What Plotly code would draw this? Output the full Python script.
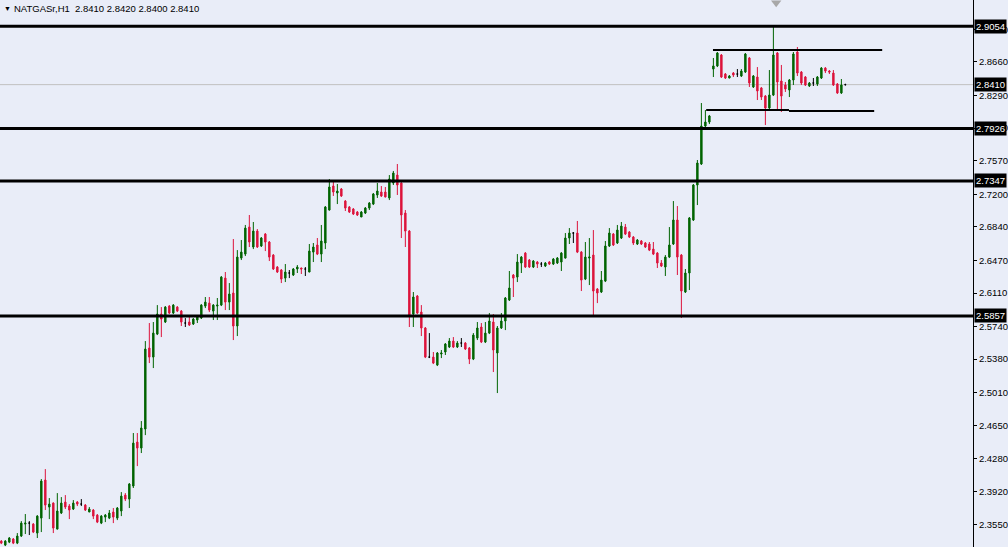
import plotly.graph_objects as go

# ---------------- data (NATGAS H1 candles) ----------------
opens = [2.3372,2.3328,2.3361,2.3395,2.3350,2.3428,2.3560,2.3571,2.3560,2.3461,
         2.3626,2.4046,2.3748,2.3792,2.3505,2.3682,2.3803,2.3759,2.3726,2.3803,
         2.3781,2.3770,2.3693,2.3715,2.3659,2.3571,2.3637,2.3626,2.3693,2.3626,
         2.3704,2.3880,2.3836,2.3980,2.4465,2.4399,2.4609,2.5503,2.5403,2.5657,
         2.5878,2.5790,2.5966,2.5889,2.5955,2.5911,2.5779,2.5790,2.5768,2.5812,
         2.5834,2.5966,2.5999,2.5911,2.5966,2.5977,2.6275,2.6010,2.6110,2.5746,
         2.6496,2.6540,2.6838,2.6618,2.6794,2.6629,2.6761,2.6673,2.6529,2.6397,
         2.6364,2.6275,2.6331,2.6309,2.6375,2.6386,2.6375,2.6342,2.6562,2.6640,
         2.6540,2.6662,2.7026,2.7291,2.7214,2.7258,2.7125,2.7059,2.7037,2.7004,
         2.6949,2.6993,2.7048,2.7092,2.7192,2.7225,2.7225,2.7159,2.7324,2.7412,
         2.7324,2.6993,2.6794,2.5878,2.6077,2.5900,2.5724,2.5403,2.5403,2.5315,
         2.5437,2.5459,2.5514,2.5580,2.5514,2.5558,2.5558,2.5503,2.5381,2.5613,
         2.5735,2.5569,2.5668,2.5790,2.5448,2.5724,2.5801,2.6033,2.6309,2.6286,
         2.6441,2.6551,2.6474,2.6397,2.6452,2.6430,2.6408,2.6452,2.6430,2.6441,
         2.6452,2.6496,2.6717,2.6772,2.6772,2.6562,2.6264,2.6496,2.6529,2.6154,
         2.6121,2.6242,2.6629,2.6761,2.6662,2.6717,2.6838,2.6783,2.6728,2.6651,
         2.6684,2.6662,2.6651,2.6595,2.6551,2.6441,2.6397,2.6507,2.6651,2.6916,
         2.6529,2.6121,2.6331,2.6916,2.7302,2.7534,2.7953,2.7997,2.8582,2.8616,
         2.8737,2.8527,2.8483,2.8538,2.8527,2.8505,2.8549,2.8704,2.8384,2.8494,
         2.8373,2.8284,2.8152,2.8295,2.8759,2.8450,2.8406,2.8351,2.8461,2.8770,
         2.8549,2.8494,2.8395,2.8428,2.8417,2.8483,2.8593,2.8560,2.8538,2.8417,
         2.8318,2.8410]
highs = [2.3383,2.3383,2.3417,2.3406,2.3461,2.3593,2.3671,2.3593,2.3571,2.3659,
         2.4057,2.4167,2.3847,2.3800,2.3902,2.3858,2.3880,2.3781,2.3825,2.3814,
         2.3836,2.3781,2.3748,2.3726,2.3671,2.3659,2.3671,2.3715,2.3737,2.3748,
         2.3913,2.3902,2.4013,2.4565,2.4565,2.4697,2.5580,2.5779,2.5790,2.5977,
         2.5955,2.5966,2.5977,2.5988,2.5966,2.5922,2.5834,2.5845,2.5834,2.5867,
         2.5988,2.6066,2.6066,2.5988,2.6055,2.6298,2.6342,2.6220,2.6706,2.6584,
         2.6695,2.6861,2.6971,2.6894,2.6816,2.6728,2.6772,2.6684,2.6540,2.6408,
         2.6375,2.6430,2.6364,2.6386,2.6419,2.6390,2.6397,2.6651,2.6662,2.6717,
         2.6861,2.7070,2.7368,2.7357,2.7313,2.7269,2.7136,2.7070,2.7048,2.7015,
         2.7015,2.7059,2.7114,2.7214,2.7324,2.7291,2.7280,2.7412,2.7457,2.7534,
         2.7335,2.7026,2.6805,2.6121,2.6088,2.5977,2.5735,2.5668,2.5459,2.5459,
         2.5481,2.5558,2.5613,2.5624,2.5580,2.5613,2.5569,2.5514,2.5668,2.5790,
         2.5779,2.5790,2.5889,2.5878,2.5746,2.5889,2.6066,2.6353,2.6320,2.6540,
         2.6518,2.6562,2.6485,2.6474,2.6463,2.6452,2.6452,2.6463,2.6496,2.6507,
         2.6562,2.6772,2.6827,2.6783,2.6905,2.6573,2.6673,2.6717,2.6805,2.6165,
         2.6353,2.6684,2.6827,2.6772,2.6861,2.6894,2.6872,2.6794,2.6739,2.6706,
         2.6695,2.6673,2.6673,2.6673,2.6562,2.6474,2.6529,2.6838,2.7125,2.7070,
         2.6540,2.6375,2.6949,2.7313,2.7578,2.8207,2.8130,2.8075,2.8704,2.8770,
         2.8748,2.8538,2.8516,2.8549,2.8582,2.8582,2.8759,2.8715,2.8516,2.8604,
         2.8384,2.8295,2.8571,2.9046,2.8770,2.8627,2.8439,2.8472,2.8770,2.8825,
         2.8560,2.8505,2.8439,2.8483,2.8505,2.8604,2.8604,2.8571,2.8571,2.8428,
         2.8472,2.8420]
lows = [2.3339,2.3317,2.3350,2.3339,2.3339,2.3417,2.3450,2.3439,2.3461,2.3406,
        2.3472,2.3715,2.3615,2.3461,2.3500,2.3671,2.3726,2.3615,2.3715,2.3759,
        2.3759,2.3704,2.3693,2.3615,2.3571,2.3560,2.3582,2.3615,2.3571,2.3604,
        2.3648,2.3814,2.3737,2.3958,2.4200,2.4344,2.4542,2.5337,2.5282,2.5646,
        2.5624,2.5779,2.5878,2.5878,2.5900,2.5746,2.5735,2.5746,2.5757,2.5779,
        2.5823,2.5944,2.5900,2.5812,2.5812,2.5966,2.5922,2.5922,2.5591,2.5635,
        2.6474,2.6518,2.6618,2.6595,2.6607,2.6618,2.6573,2.6463,2.6364,2.6331,
        2.6220,2.6231,2.6275,2.6298,2.6331,2.6320,2.6298,2.6340,2.6452,2.6529,
        2.6452,2.6595,2.7020,2.7181,2.7092,2.7170,2.7015,2.6993,2.6971,2.6960,
        2.6949,2.6982,2.7026,2.7081,2.7159,2.7170,2.7165,2.7136,2.7302,2.7192,
        2.6717,2.6618,2.5735,2.5735,2.5878,2.5635,2.5392,2.5392,2.5326,2.5304,
        2.5392,2.5426,2.5503,2.5503,2.5503,2.5514,2.5481,2.5326,2.5370,2.5591,
        2.5558,2.5558,2.5657,2.5238,2.5006,2.5713,2.5701,2.6022,2.6066,2.6231,
        2.6331,2.6386,2.6386,2.6386,2.6386,2.6397,2.6397,2.6419,2.6419,2.6430,
        2.6353,2.6490,2.6651,2.6662,2.6551,2.6132,2.6253,2.6198,2.5867,2.5999,
        2.6110,2.6231,2.6618,2.6629,2.6651,2.6706,2.6750,2.6717,2.6640,2.6640,
        2.6640,2.6607,2.6573,2.6529,2.6386,2.6397,2.6298,2.6496,2.6640,2.6309,
        2.5834,2.6110,2.6143,2.6905,2.7081,2.7523,2.7942,2.7975,2.8494,2.8604,
        2.8483,2.8472,2.8480,2.8494,2.8494,2.8494,2.8538,2.8384,2.8373,2.8240,
        2.8240,2.7964,2.8141,2.8284,2.8119,2.8108,2.8329,2.8273,2.8406,2.8505,
        2.8406,2.8395,2.8384,2.8395,2.8395,2.8472,2.8538,2.8527,2.8395,2.8307,
        2.8307,2.8400]
closes = [2.3350,2.3372,2.3406,2.3350,2.3428,2.3571,2.3571,2.3571,2.3472,2.3648,
          2.4035,2.3770,2.3781,2.3516,2.3704,2.3792,2.3748,2.3715,2.3792,2.3781,
          2.3781,2.3715,2.3726,2.3648,2.3582,2.3648,2.3659,2.3682,2.3637,2.3737,
          2.3869,2.3836,2.4002,2.4454,2.4399,2.4620,2.5492,2.5403,2.5668,2.5878,
          2.5823,2.5955,2.5889,2.5977,2.5911,2.5790,2.5779,2.5757,2.5823,2.5845,
          2.5977,2.6010,2.5922,2.5977,2.5977,2.6286,2.6010,2.6099,2.5746,2.6507,
          2.6562,2.6827,2.6673,2.6794,2.6618,2.6717,2.6673,2.6507,2.6375,2.6342,
          2.6264,2.6342,2.6331,2.6375,2.6397,2.6375,2.6375,2.6573,2.6618,2.6540,
          2.6684,2.7059,2.7280,2.7225,2.7236,2.7181,2.7048,2.7004,2.6982,2.6971,
          2.7004,2.7048,2.7103,2.7203,2.7236,2.7181,2.7170,2.7368,2.7434,2.7302,
          2.6971,2.6794,2.5867,2.6066,2.5889,2.5724,2.5403,2.5403,2.5337,2.5448,
          2.5448,2.5547,2.5580,2.5514,2.5558,2.5558,2.5492,2.5381,2.5646,2.5724,
          2.5569,2.5668,2.5801,2.5481,2.5724,2.5801,2.6055,2.6165,2.6275,2.6452,
          2.6507,2.6397,2.6397,2.6463,2.6430,2.6430,2.6441,2.6430,2.6485,2.6496,
          2.6551,2.6717,2.6772,2.6772,2.6562,2.6253,2.6507,2.6507,2.6132,2.6110,
          2.6253,2.6629,2.6772,2.6640,2.6805,2.6849,2.6761,2.6728,2.6662,2.6695,
          2.6651,2.6618,2.6584,2.6540,2.6441,2.6408,2.6507,2.6640,2.6916,2.6507,
          2.6132,2.6331,2.6938,2.7302,2.7545,2.7953,2.7997,2.8064,2.8616,2.8759,
          2.8494,2.8483,2.8505,2.8516,2.8527,2.8560,2.8748,2.8428,2.8505,2.8340,
          2.8273,2.8152,2.8295,2.8737,2.8439,2.8284,2.8362,2.8461,2.8748,2.8538,
          2.8428,2.8406,2.8428,2.8428,2.8494,2.8593,2.8560,2.8549,2.8406,2.8318,
          2.8406,2.8410]

# horizontal support / resistance levels and the bid line
levels = [2.9054, 2.7926, 2.7347, 2.5857]
bid_price = 2.8410
# hand-drawn range lines: (x start bar, x end bar, price start, price end)
range_lines = [(177.9, 220.2, 2.8792, 2.8792),
               (176.2, 196.9, 2.8130, 2.8130),
               (196.9, 218.2, 2.8119, 2.8119)]
tick_values = [2.3550, 2.3920, 2.4280, 2.4650, 2.5010, 2.5380, 2.5740, 2.6110,
               2.6470, 2.6840, 2.7200, 2.7570, 2.7930, 2.8290, 2.8660, 2.9020]
title_text = "NATGASr,H1\u00a0\u00a02.8410 2.8420 2.8400 2.8410"
marker_bar, marker_price = 193.7, 2.9315

# ---------------- figure ----------------
GREEN = "#006400"
RED = "#DC143C"
BLACK = "#000000"
BG = "#E9EDF8"
FONT = "Liberation Sans"

bars = list(range(len(opens)))
groups = {
    "up": [i for i in bars if closes[i] > opens[i]],
    "down": [i for i in bars if closes[i] < opens[i]],
    "doji": [i for i in bars if closes[i] == opens[i]],
}
colors = {"up": GREEN, "down": RED, "doji": BLACK}

fig = go.Figure()
for name, idx in groups.items():
    col = colors[name]
    fig.add_trace(go.Candlestick(
        x=idx,
        open=[opens[i] for i in idx],
        high=[highs[i] for i in idx],
        low=[lows[i] for i in idx],
        close=[closes[i] for i in idx],
        increasing=dict(line=dict(color=col, width=1), fillcolor=col),
        decreasing=dict(line=dict(color=col, width=1), fillcolor=col),
        whiskerwidth=0,
        hoverinfo="skip",
        showlegend=False,
    ))

# marker triangle at top
fig.add_trace(go.Scatter(x=[marker_bar], y=[marker_price], mode="markers",
                         marker=dict(symbol="triangle-down", size=9, color="#A8A8A8"),
                         cliponaxis=False, showlegend=False, hoverinfo="skip"))

shapes = []
shapes.append(dict(type="line", xref="paper", x0=0, x1=1, yref="y",
                   y0=bid_price, y1=bid_price, line=dict(color="#C0C0C0", width=1),
                   layer="below"))
for lv in levels:
    shapes.append(dict(type="line", xref="paper", x0=0, x1=1, yref="y",
                       y0=lv, y1=lv, line=dict(color=BLACK, width=3)))
for x0, x1, y0, y1 in range_lines:
    shapes.append(dict(type="line", xref="x", x0=x0, x1=x1, yref="y",
                       y0=y0, y1=y1, line=dict(color=BLACK, width=2)))

annotations = []
for lv in levels + [bid_price]:
    annotations.append(dict(x=1, xref="paper", xanchor="left", xshift=1,
                            y=lv, yref="y", yanchor="middle",
                            text=f"{lv:.4f}", showarrow=False,
                            font=dict(family=FONT, size=9.5, color="white"),
                            bgcolor=BLACK, borderpad=1))
annotations.append(dict(x=0, xref="paper", xanchor="left", xshift=2,
                        y=1, yref="paper", yanchor="top", yshift=-3,
                        text="\u25BC", showarrow=False,
                        font=dict(family=FONT, size=7, color=BLACK)))
annotations.append(dict(x=0, xref="paper", xanchor="left", xshift=12,
                        y=1, yref="paper", yanchor="top", yshift=-1,
                        text=title_text, showarrow=False,
                        font=dict(family=FONT, size=9.5, color=BLACK)))

fig.update_layout(
    width=1008, height=547,
    margin=dict(l=0, r=35, t=0, b=0, autoexpand=False),
    paper_bgcolor=BG, plot_bgcolor=BG,
    boxgap=0.5,
    showlegend=False,
    shapes=shapes,
    annotations=annotations,
    xaxis=dict(range=[-0.33, 242.9], visible=False, rangeslider=dict(visible=False),
               fixedrange=True),
    yaxis=dict(side="right", range=[2.3307, 2.9344], showgrid=False, zeroline=False,
               tickvals=tick_values, ticktext=[f"{v:.4f}" for v in tick_values],
               ticks="outside", ticklen=3, tickcolor=BLACK, tickwidth=1,
               showline=True, linecolor=BLACK, linewidth=1,
               tickfont=dict(family=FONT, size=9.5, color=BLACK), fixedrange=True),
)

fig.write_html("out.html", config={"displayModeBar": False},
               post_script="document.body.style.margin='0';document.body.style.background='%s';" % BG)
